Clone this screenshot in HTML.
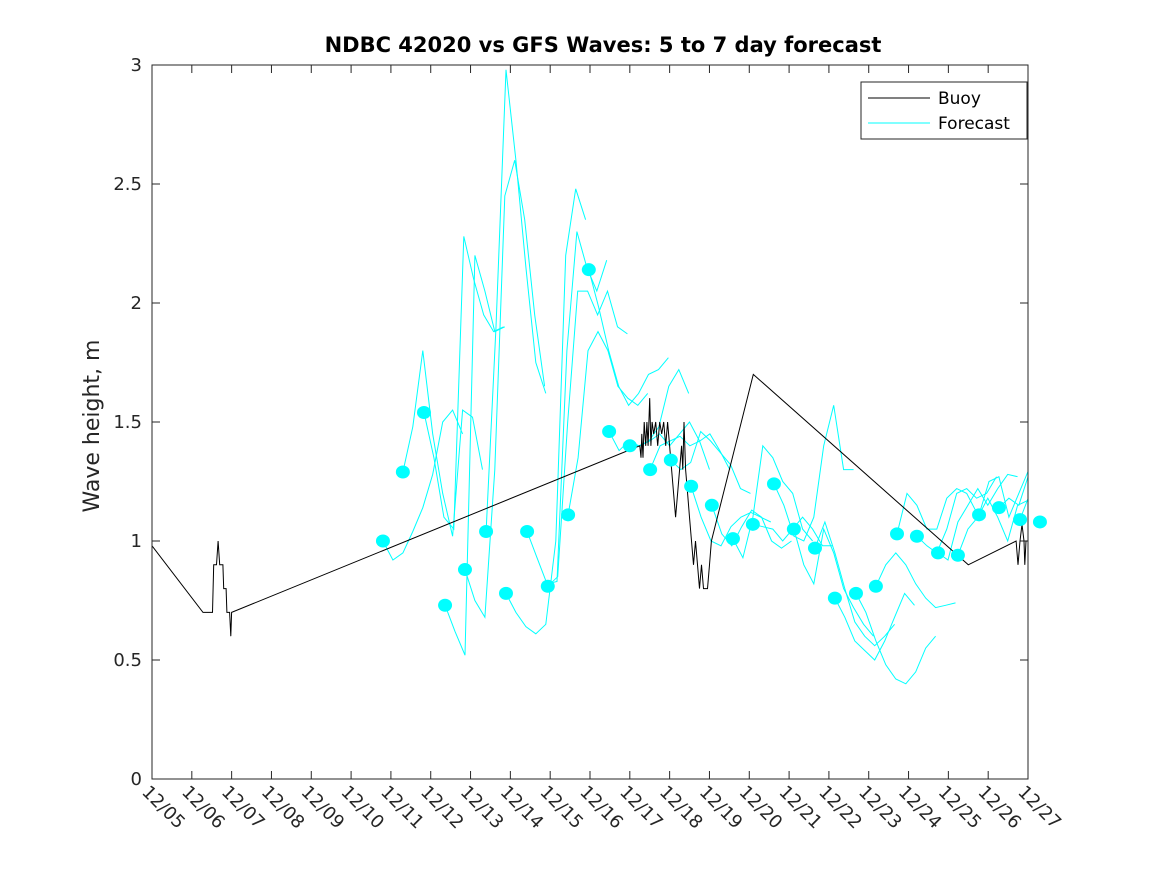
<!DOCTYPE html>
<html><head><meta charset="utf-8"><style>body{margin:0;background:#fff}svg{display:block;font-family:"DejaVu Sans","Liberation Sans",sans-serif}</style></head>
<body>
<svg id="chart" width="1167" height="875" xmlns="http://www.w3.org/2000/svg">
<rect width="1167" height="875" fill="#fff"/>
<text x="603" y="52" text-anchor="middle" font-size="21" font-weight="bold" fill="#000">NDBC 42020 vs GFS Waves: 5 to 7 day forecast</text>
<text transform="translate(99,426) rotate(-90)" text-anchor="middle" font-size="22" fill="#262626">Wave height, m</text>
<defs><clipPath id="plotclip"><rect x="152" y="65" width="876" height="714"/></clipPath></defs>
<g id="grid"></g>
<g id="series" clip-path="url(#plotclip)"></g>
<g id="dots"></g>
<rect x="152" y="65" width="876" height="714" fill="none" stroke="#262626" stroke-width="1"/>
<g>
<rect x="861" y="82" width="166" height="57" fill="#fff" stroke="#262626"/>
<line x1="868" y1="98" x2="930" y2="98" stroke="#000"/>
<text x="938" y="104" font-size="17" fill="#000">Buoy</text>
<line x1="868" y1="123" x2="930" y2="123" stroke="#0ff"/>
<text x="938" y="129" font-size="17" fill="#000">Forecast</text>
</g>
</svg>
<script>
const xTickLabels=["12/05","12/06","12/07","12/08","12/09","12/10","12/11","12/12","12/13","12/14","12/15","12/16","12/17","12/18","12/19","12/20","12/21","12/22","12/23","12/24","12/25","12/26","12/27"];
const yTicks=[0,0.5,1,1.5,2,2.5,3];
const yTickLabels=["0","0.5","1","1.5","2","2.5","3"];
const buoyT=[0,1.28,1.52,1.55,1.62,1.66,1.70,1.78,1.80,1.86,1.88,1.95,1.98,2.00,12.25,12.28,12.3,12.33,12.36,12.4,12.43,12.46,12.5,12.53,12.56,12.6,12.65,12.7,12.75,12.8,12.85,12.9,12.95,13.0,13.05,13.1,13.15,13.2,13.25,13.3,13.33,13.36,13.4,13.45,13.5,13.55,13.6,13.65,13.7,13.75,13.8,13.85,13.9,13.95,14.0,14.05,15.10,20.5,21.7,21.75,21.8,21.85,21.9,21.92,21.95,22];
const buoyV=[0.98,0.70,0.70,0.90,0.90,1.0,0.90,0.90,0.80,0.80,0.70,0.70,0.60,0.70,1.40,1.35,1.45,1.35,1.5,1.4,1.5,1.4,1.6,1.4,1.5,1.45,1.5,1.4,1.5,1.45,1.5,1.4,1.5,1.4,1.3,1.2,1.1,1.2,1.3,1.4,1.3,1.5,1.3,1.2,1.1,1.0,0.9,1.0,0.9,0.8,0.9,0.8,0.8,0.8,0.9,1.0,1.70,0.90,1.00,0.9,1.0,1.07,1.0,0.9,1.0,1.0];
const runStart=[5.80,6.30,6.83,7.36,7.86,8.39,8.89,9.42,9.94,10.45,10.97,11.48,12.00,12.51,13.03,13.54,14.06,14.59,15.09,15.62,16.12,16.65,17.15,17.68,18.18,18.71,19.21,19.74,20.24,20.77,21.27,21.80,22.30];
const runDot=[1.00,1.29,1.54,0.73,0.88,1.04,0.78,1.04,0.81,1.11,2.14,1.46,1.40,1.30,1.34,1.23,1.15,1.01,1.07,1.24,1.05,0.97,0.76,0.78,0.81,1.03,1.02,0.95,0.94,1.11,1.14,1.09,1.08];
const runVals=[
[1.00,0.92,0.95,1.04,1.14,1.28,1.50,1.55,1.45],
[1.29,1.48,1.80,1.45,1.20,1.02,1.55,1.52,1.30],
[1.54,1.35,1.10,1.05,2.28,2.10,1.95,1.88,1.90],
[0.73,0.62,0.52,2.20,2.05,1.88,1.90],
[0.88,0.75,0.68,1.30,2.45,2.60,2.35,1.95,1.65],
[1.04,1.90,2.98,2.60,2.15,1.75,1.62],
[0.78,0.70,0.64,0.61,0.65,1.00,2.20,2.48,2.35],
[1.04,0.93,0.82,0.83,1.80,2.30,2.15,2.05,2.18],
[0.81,0.85,1.50,2.05,2.05,1.95,2.05,1.90,1.87],
[1.11,1.35,1.80,1.88,1.80,1.65,1.60,1.57,1.62],
[2.14,1.98,1.80,1.65,1.57,1.62,1.70,1.72,1.77],
[1.46,1.38,1.42,1.40,1.42,1.48,1.65,1.72,1.62],
[1.40,1.40,1.42,1.45,1.40,1.45,1.50,1.42,1.30],
[1.30,1.40,1.42,1.44,1.40,1.42,1.45,1.38,1.30],
[1.34,1.30,1.33,1.46,1.42,1.37,1.32,1.22,1.20],
[1.23,1.10,1.00,0.98,1.06,1.10,1.12,1.10,1.08],
[1.15,1.03,0.98,1.06,1.13,1.10,1.00,0.97,1.00],
[1.01,0.93,1.10,1.40,1.35,1.25,1.20,1.05,1.00],
[1.07,1.06,1.05,1.00,1.05,1.10,1.05,0.98,0.98],
[1.24,1.15,1.02,1.00,1.10,1.40,1.57,1.30,1.30],
[1.05,0.90,0.82,1.05,0.95,0.80,0.72,0.65,0.60],
[0.97,1.08,0.95,0.80,0.66,0.60,0.56,0.60,0.65],
[0.76,0.68,0.58,0.54,0.50,0.58,0.68,0.78,0.73],
[0.78,0.70,0.58,0.48,0.42,0.40,0.45,0.55,0.60],
[0.81,0.90,0.95,0.90,0.82,0.76,0.72,0.73,0.74],
[1.03,1.20,1.15,1.05,1.05,1.18,1.22,1.20,1.12],
[1.02,0.98,0.95,1.05,1.20,1.22,1.18,1.20,1.27],
[0.95,0.92,1.08,1.15,1.22,1.15,1.22,1.28,1.27],
[0.94,1.05,1.10,1.18,1.10,1.00,1.15,1.17,1.18],
[1.11,1.25,1.27,1.10,1.20,1.30,1.25,1.15,1.10],
[1.14,1.18,1.15,1.28,1.22,1.10,1.00,1.00,1.00],
[1.09,1.20,1.25,1.15,1.05,1.00,1.00,1.00,1.00],
[1.08,1.00,0.95,0.95,0.95,0.95,0.95,0.95,0.95]];
const stepDays=0.25;
const NS="http://www.w3.org/2000/svg";
const X0=152,X1=1028,Y0=779,Y1=65,DAYS=22,YMAX=3;
function xs(t){return X0+(X1-X0)*t/DAYS;}
function ys(v){return Y0-(Y0-Y1)*v/YMAX;}
function mk(tag,attrs,parent){const e=document.createElementNS(NS,tag);for(const k in attrs)e.setAttribute(k,attrs[k]);parent.appendChild(e);return e;}
const grid=document.getElementById('grid'),series=document.getElementById('series'),dots=document.getElementById('dots');
xTickLabels.forEach((lab,i)=>{const x=xs(i);
 const t1=mk('line',{x1:x,y1:Y0,x2:x,y2:Y0-8,stroke:'#262626'},grid);
 
 
 const t2=mk('line',{x1:x,y1:Y1,x2:x,y2:Y1+8,stroke:'#262626'},grid);
 
 
 const tx=mk('text',{transform:`translate(${x-11},${Y0+14}) rotate(45)`,'font-size':18,fill:'#262626'},grid);
 tx.textContent=lab;
 
 
});
yTicks.forEach((v,i)=>{const y=ys(v);
 const t1=mk('line',{x1:X0,y1:y,x2:X0+8,y2:y,stroke:'#262626'},grid);
 
 
 const t2=mk('line',{x1:X1,y1:y,x2:X1-8,y2:y,stroke:'#262626'},grid);
 
 
 const tx=mk('text',{x:X0-10,y:y+6,'text-anchor':'end','font-size':18,fill:'#262626'},grid);
 tx.textContent=yTickLabels[i];
 
 
});
runVals.forEach((vals,r)=>{
 const pts=vals.map((v,j)=>xs(runStart[r]+j*stepDays).toFixed(1)+','+ys(v).toFixed(1)).join(' ');
 const pl=mk('polyline',{points:pts,fill:'none',stroke:'#00ffff','stroke-width':1},series);
 
 
});
const bp=buoyT.map((t,i)=>xs(t).toFixed(1)+','+ys(buoyV[i]).toFixed(1)).join(' ');
const bl=mk('polyline',{points:bp,fill:'none',stroke:'#000','stroke-width':1},series);


runStart.forEach((t,r)=>{
 const c=mk('ellipse',{cx:xs(t),cy:ys(runDot[r]),rx:7,ry:6.5,fill:'#00ffff'},dots);
 
 
});
</script>
</body></html>
